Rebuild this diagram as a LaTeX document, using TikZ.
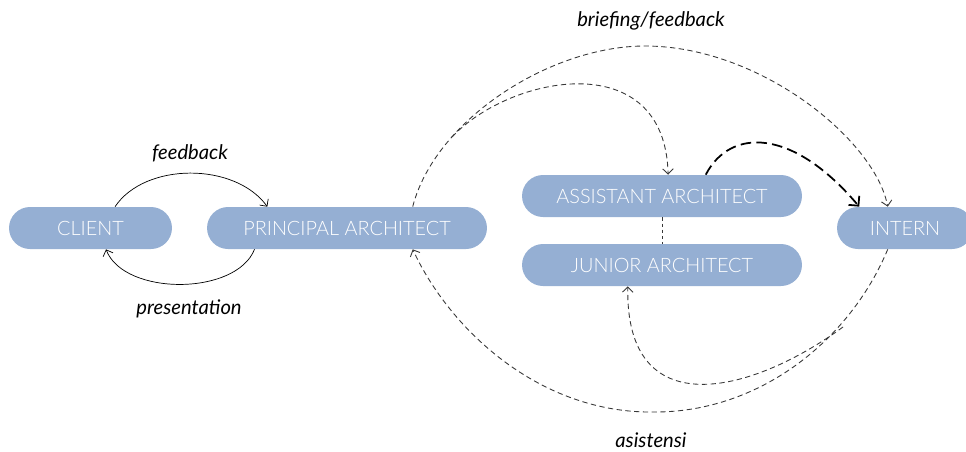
\documentclass[tikz,border=0pt]{standalone}
\usepackage{fontspec}
\usetikzlibrary{arrows.meta}
\setmainfont{Lato}
\newfontfamily\rolefont{Lato Light}
\definecolor{rolefill}{RGB}{149,175,211}
\definecolor{linegray}{RGB}{55,55,55}

\begin{document}
\begin{tikzpicture}[x=0.02cm, y=-0.02cm,
    >={Straight Barb[length=3pt, width=6pt]},
    role/.style={rectangle, rounded corners=0.42cm, fill=rolefill, text=white,
        minimum height=0.84cm, inner sep=0pt, font=\rolefont\fontsize{11.3}{13}\selectfont},
    talk/.style={font=\fontsize{11.5}{13}\selectfont\itshape},
    flow/.style={->, linegray, dash pattern=on 3pt off 2pt, line width=0.5pt}]
    \useasboundingbox (0,0) rectangle (966,451);

    \node[role, minimum width=3.26cm] at (90.5,228)  (client)    {CLIENT};
    \node[role, minimum width=5.6cm]  at (347,228)   (principal) {PRINCIPAL ARCHITECT};
    \node[role, minimum width=5.6cm]  at (662,196)   (assistant) {ASSISTANT ARCHITECT};
    \node[role, minimum width=5.6cm]  at (662,265)   (junior)    {JUNIOR ARCHITECT};
    \node[role, minimum width=2.72cm] at (905,228)   (intern)    {INTERN};

    \node[talk] at (190,153) (feedback)     {feedback};
    \node[talk] at (189,309) (presentation) {presentation};
    \node[talk] at (651,21)  (briefing)     {briefing/feedback};
    \node[talk] at (651,440) (asistensi)    {asistensi};

    \coordinate (topsplit)    at (452,137);
    \coordinate (bottomsplit) at (843,327);

    \draw[->] (client.41) .. controls (145,162) and (235,162) .. (principal.165);
    \draw[->] (principal.193) .. controls (236,296) and (124,296) .. (client.306);

    \draw[flow] (principal.18) .. controls (435,120) and (550,46) .. (645,46)
        .. controls (760,46) and (875,140) .. (intern.129);
    \draw[flow] (topsplit) .. controls (510,75) and (665,45) .. (assistant.74);
    \draw[flow] (intern.231) .. controls (850,340) and (760,412) .. (655,412)
        .. controls (540,414) and (450,330) .. (principal.342);
    \draw[flow] (bottomsplit) .. controls (750,395) and (625,425) .. (junior.212);

    \draw[linegray, dash pattern=on 2pt off 1.5pt, line width=0.5pt] (assistant) -- (junior);
    \draw[->, >={Straight Barb[length=4pt, width=8pt]}, black, dash pattern=on 6pt off 3pt, line width=1pt]
        (assistant.26) .. controls (730,128) and (792,127) .. (intern.155);
\end{tikzpicture}
\end{document}
